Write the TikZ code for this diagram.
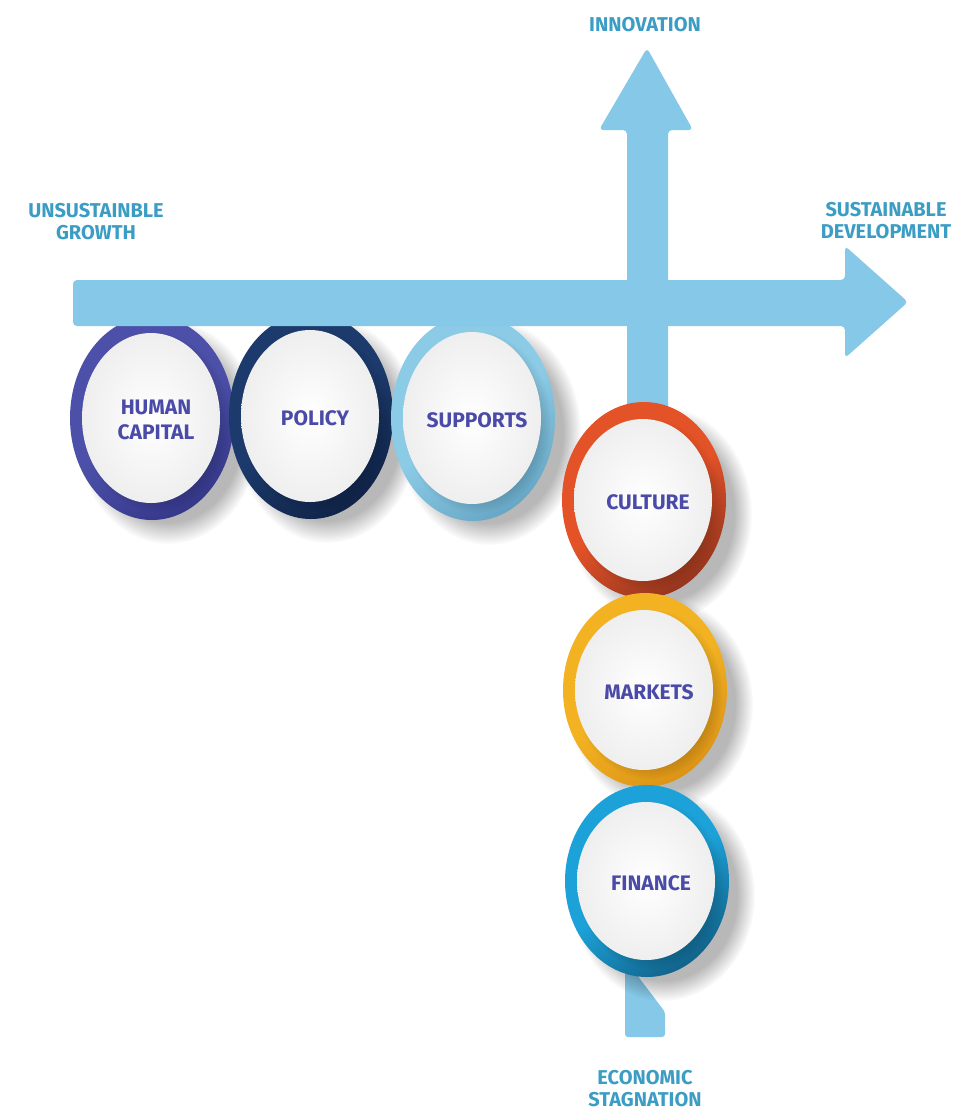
\documentclass[tikz,border=0pt]{standalone}
\usepackage{fontspec}
\setmainfont{Fira Sans}
\usetikzlibrary{fadings}
\definecolor{arrowblue}{RGB}{134,200,232}
\definecolor{labelblue}{RGB}{60,157,196}
\definecolor{textpurple}{RGB}{74,74,168}
\definecolor{hcring}{RGB}{76,80,168}
\definecolor{hcdark}{RGB}{54,56,138}
\definecolor{polring}{RGB}{28,58,108}
\definecolor{poldark}{RGB}{16,36,72}
\definecolor{supring}{RGB}{140,203,230}
\definecolor{supdark}{RGB}{104,168,198}
\definecolor{culring}{RGB}{228,82,40}
\definecolor{culdark}{RGB}{150,54,30}
\definecolor{mktring}{RGB}{242,178,34}
\definecolor{mktdark}{RGB}{220,148,22}
\definecolor{finring}{RGB}{28,162,216}
\definecolor{findark}{RGB}{18,100,140}
\tikzset{
  axislabel/.style={text=labelblue, font=\bfseries\fontsize{20}{22}\selectfont, align=center},
  circlabel/.style={text=textpurple, font=\bfseries\fontsize{21}{25}\selectfont, align=center},
}
% #1 name, #2 x, #3 y, #4 ry, #5 ring colour, #6 dark colour, #7 text
\newcommand{\ringnode}[7]{%
  \fill[black, opacity=0.28, path fading=circle with fuzzy edge 20 percent]
    (#2+16,#3+14) ellipse [x radius=92, y radius=#4+10];
  \shade[top color=#5, bottom color=#6, middle color=#5, shading angle=35]
    (#2,#3) ellipse [x radius=82, y radius=#4];
  \fill[black, opacity=0.18, path fading=circle with fuzzy edge 20 percent]
    (#2+4,#3+4) ellipse [x radius=74, y radius=#4-12];
  \shade[inner color=white, outer color=gray!13]
    (#2-1,#3) ellipse [x radius=69, y radius=#4-17];
  \node[circlabel] (#1) at (#2+4,#3+2) {#7};
}
\begin{document}
\begin{tikzpicture}[x=1pt,y=-1pt]
\useasboundingbox (0,0) rectangle (974,1120);
\fill[white] (0,0) rectangle (974,1120);

% top row circles
\ringnode{hc}{152}{418}{102}{hcring}{hcdark}{HUMAN\\CAPITAL}
\ringnode{pol}{311}{416}{103}{polring}{poldark}{POLICY}
\ringnode{sup}{473}{418}{103}{supring}{supdark}{SUPPORTS}

% arrows
\fill[arrowblue, rounded corners=4pt]
  (73,280) -- (845,280) -- (845,246) -- (908,302) -- (845,358) -- (845,326) -- (73,326) -- cycle;
\fill[arrowblue, rounded corners=4pt]
  (627,420) -- (627,130) -- (599,130) -- (647,48) -- (693,130) -- (668,130) -- (668,420) -- cycle;
% bottom stub
\fill[arrowblue, rounded corners=3pt]
  (625,960) -- (625,1037) -- (665,1037) -- (665,1012) -- (637,975) -- (637,960) -- cycle;

% column circles
\ringnode{cul}{644}{500}{98}{culring}{culdark}{CULTURE}
\ringnode{mkt}{645}{690}{97}{mktring}{mktdark}{MARKETS}
\ringnode{fin}{647}{881}{96}{finring}{findark}{FINANCE}

% axis labels
\node[axislabel] (unsus) at (96,222) {UNSUSTAINBLE\\GROWTH};
\node[axislabel] (innov) at (645,25) {INNOVATION};
\node[axislabel] (sust) at (886,221) {SUSTAINABLE\\DEVELOPMENT};
\node[axislabel] (econ) at (645,1089) {ECONOMIC\\STAGNATION};
\end{tikzpicture}
\end{document}
